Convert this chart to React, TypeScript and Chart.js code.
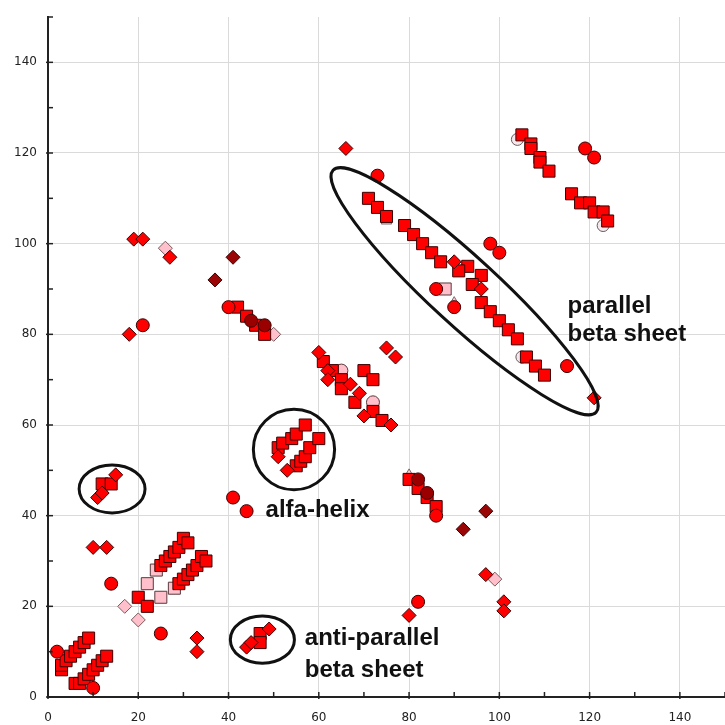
import React, { useEffect, useRef } from "react";
import { Chart, registerables } from "chart.js";

Chart.register(...registerables);

type P = [number, number];

// axis
const axisMin = 0;
const axisMax = 150;
const tickStep = 10;
const labelStep = 20;

// marks
const redSquares: P[] = [
  [3, 6], [3, 7], [4, 8], [5, 9], [6, 10], [7, 11], [8, 12], [9, 13],
  [6, 3], [7, 3], [8, 4], [9, 5], [10, 6], [11, 7], [12, 8], [13, 9],
  [12, 47], [14, 47],
  [20, 22], [22, 20],
  [25, 29], [26, 30], [27, 31], [28, 32], [29, 33], [30, 35], [31, 34],
  [29, 25], [30, 26], [31, 27], [32, 28], [33, 29], [34, 31], [35, 30],
  [47, 14], [47, 12],
  [51, 55], [52, 56], [54, 57], [55, 58], [57, 60],
  [55, 51], [56, 52], [57, 53], [58, 55], [60, 57],
  [42, 86], [44, 84], [46, 82], [48, 80],
  [61, 74], [63, 72], [65, 70], [65, 68], [68, 65], [70, 72], [72, 70], [72, 63], [74, 61],
  [80, 48], [82, 46], [84, 44], [86, 42],
  [71, 110], [73, 108], [75, 106], [79, 104], [81, 102], [83, 100], [85, 98], [87, 96],
  [93, 95], [91, 94], [96, 93], [94, 91],
  [96, 87], [98, 85], [100, 83], [102, 81], [104, 79], [106, 75], [108, 73], [110, 71],
  [105, 124], [107, 122], [107, 121], [109, 119], [109, 118], [111, 116],
  [116, 111], [118, 109], [120, 109], [121, 107], [123, 107], [124, 105],
];

const redCircles: P[] = [
  [2, 10], [10, 2], [14, 25], [25, 14], [41, 44], [44, 41], [40, 86], [21, 82],
  [82, 21], [86, 40], [73, 115], [98, 100], [100, 98], [86, 90], [90, 86], [115, 73],
  [119, 121], [121, 119],
];

const redDiamonds: P[] = [
  [10, 33], [13, 33], [11, 44], [12, 45], [15, 49], [33, 13], [33, 10],
  [44, 11], [45, 12], [49, 15], [51, 53], [53, 50],
  [19, 101], [21, 101], [27, 97], [18, 80], [66, 121],
  [60, 76], [62, 72], [62, 70], [67, 69], [69, 67], [70, 62], [76, 60],
  [75, 77], [77, 75], [90, 96], [96, 90], [121, 66],
  [97, 27], [101, 21], [101, 19], [80, 18],
];

const darkDiamonds: P[] = [[41, 97], [37, 92], [97, 41], [92, 37]];
const darkCircles: P[] = [[45, 83], [48, 82], [82, 48], [84, 45]];

const pinkDiamonds: P[] = [[17, 20], [20, 17], [26, 99], [99, 26], [50, 80]];
const pinkSquares: P[] = [[22, 25], [25, 22], [24, 28], [28, 24], [88, 90]];
const pinkCircles: P[] = [[65, 72], [72, 65]];
const pinkTriangles: P[] = [[80, 49], [90, 87], [75, 105]];
const whiteCircles: P[] = [[104, 123], [123, 104], [105, 75]];

// annotations (data units)
const ellipseCx = [92.3, 14.2, 54.5, 47.5];
const ellipseCy = [89.5, 45.9, 54.6, 12.65];
const ellipseRx = [39.6, 7.3, 9.0, 7.1];
const ellipseRy = [7.5, 5.3, 8.9, 5.2];
const ellipseAngle = [42.6, 0, 0, 0];

const noteText = ["parallel", "beta sheet", "alfa-helix", "anti-parallel", "beta sheet"];
const noteX = [115.1, 115.1, 48.2, 56.9, 56.9];
const noteY = [84.8, 78.6, 39.6, 11.5, 4.35];

const toXY = (a: P[]) => a.map(([x, y]) => ({ x, y }));

const stretchPlugin = {
  id: "stretchRight",
  afterLayout(chart: any) {
    const xs = chart.scales.x;
    const target = chart.width;
    xs.right = target;
    xs.width = target - xs.left;
    xs.configure();
    chart.chartArea.right = target;
    chart.chartArea.width = target - chart.chartArea.left;
  },
};

const annotationPlugin = {
  id: "annotations",
  afterDatasetsDraw(chart: any) {
    const { ctx } = chart;
    const xs = chart.scales.x;
    const ys = chart.scales.y;
    const ppx = xs.getPixelForValue(1) - xs.getPixelForValue(0);
    const ppy = ys.getPixelForValue(0) - ys.getPixelForValue(1);
    ctx.save();
    ctx.strokeStyle = "#111";
    ctx.lineWidth = 3;
    for (let i = 0; i < ellipseCx.length; i++) {
      const rot = ellipseAngle[i] !== 0;
      ctx.beginPath();
      ctx.ellipse(
        xs.getPixelForValue(ellipseCx[i]),
        ys.getPixelForValue(ellipseCy[i]),
        ellipseRx[i] * ppx,
        ellipseRy[i] * (rot ? ppx : ppy),
        (ellipseAngle[i] * Math.PI) / 180,
        0,
        Math.PI * 2
      );
      ctx.stroke();
    }
    ctx.fillStyle = "#111";
    ctx.font = "bold 24px 'Liberation Sans', Arial, sans-serif";
    ctx.textAlign = "left";
    ctx.textBaseline = "alphabetic";
    for (let i = 0; i < noteText.length; i++) {
      ctx.fillText(noteText[i], xs.getPixelForValue(noteX[i]), ys.getPixelForValue(noteY[i]));
    }
    ctx.restore();
  },
  afterDraw(chart: any) {
    const { ctx, chartArea } = chart;
    const xs = chart.scales.x;
    const ys = chart.scales.y;
    ctx.save();
    ctx.strokeStyle = "#222";
    ctx.lineWidth = 1.5;
    for (let v = axisMin; v <= axisMax; v += tickStep) {
      const major = v % labelStep === 0;
      const px = xs.getPixelForValue(v);
      ctx.beginPath();
      ctx.moveTo(px, chartArea.bottom + (major ? 2 : 0));
      ctx.lineTo(px, chartArea.bottom - 5);
      ctx.stroke();
      const py = ys.getPixelForValue(v);
      ctx.beginPath();
      ctx.moveTo(chartArea.left - (major ? 2 : 0), py);
      ctx.lineTo(chartArea.left + 5, py);
      ctx.stroke();
    }
    ctx.restore();
  },
};

const mk = (data: P[], style: string, radius: number, fill: string, border: string) => ({
  data: toXY(data),
  pointStyle: style,
  pointRadius: radius,
  pointHoverRadius: radius,
  backgroundColor: fill,
  borderColor: border,
  borderWidth: 1,
  showLine: false,
});

export default function App() {
  const ref = useRef<HTMLCanvasElement | null>(null);
  useEffect(() => {
    if (!ref.current) return;
    const scaleCommon = (axis: "x" | "y") => ({
      type: "linear" as const,
      min: axisMin,
      max: axisMax,
      border: { display: true, color: "#222", width: 2 },
      grid: {
        color: (c: any) => (c.tick && c.tick.value % labelStep === 0 ? "#dadada" : "rgba(0,0,0,0)"),
        lineWidth: 1,
        drawTicks: true,
        tickLength: axis === "x" ? 14 : 11,
        tickColor: "rgba(0,0,0,0)",
      },
      ticks: {
        stepSize: tickStep,
        autoSkip: false,
        maxRotation: 0,
        padding: 0,
        color: "#222",
        font: { family: "'DejaVu Sans', Verdana, sans-serif", size: 12 },
        callback: (v: any) => (Number(v) % labelStep === 0 && Number(v) < axisMax ? String(v) : ""),
      },
      afterFit: (s: any) => {
        if (axis === "x") s.height = 28;
        else s.width = 48;
      },
    });
    const chart = new Chart(ref.current, {
      type: "scatter",
      data: {
        datasets: [
          mk(redDiamonds, "rectRot", 7, "#ff0000", "#3a0000"),
          mk(redCircles, "circle", 6.5, "#ff0000", "#3a0000"),
          mk(darkCircles, "circle", 6.5, "#9a0000", "#3a0000"),
          mk(redSquares, "rect", 8.5, "#ff0000", "#3a0000"),
          mk(darkDiamonds, "rectRot", 7, "#9a0505", "#3a0000"),
          mk(pinkSquares, "rect", 8.5, "#ffc0cb", "#5a3a3e"),
          mk(pinkCircles, "circle", 6.5, "#ffc0cb", "#5a3a3e"),
          mk(pinkDiamonds, "rectRot", 7, "#ffc0cb", "#7a5a5e"),
          mk(pinkTriangles, "triangle", 6, "#ffc8d0", "#7a6a6e"),
          mk(whiteCircles, "circle", 6, "#f4e8ec", "#6a5a5e"),
        ],
      },
      options: {
        responsive: false,
        animation: false,
        events: [],
        layout: { padding: { top: 17, right: 0, left: 0, bottom: 0 } },
        plugins: { legend: { display: false }, tooltip: { enabled: false } },
        scales: { x: scaleCommon("x"), y: scaleCommon("y") } as any,
      },
      plugins: [stretchPlugin, annotationPlugin],
    });
    return () => chart.destroy();
  }, []);
  return (
    <div style={{ position: "absolute", left: 0, top: 0, width: 725, height: 725, background: "#fff" }}>
      <canvas ref={ref} width={725} height={725} style={{ display: "block" }} />
    </div>
  );
}
